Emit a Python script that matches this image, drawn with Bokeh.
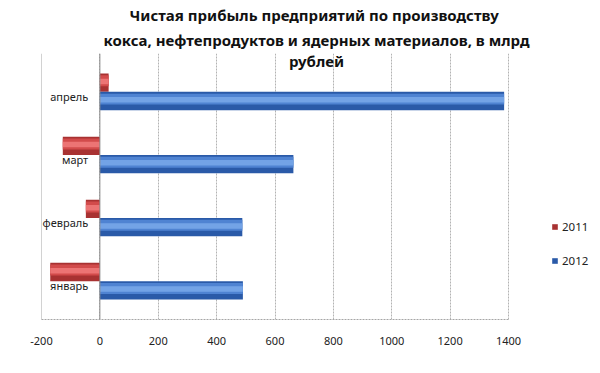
from bokeh.plotting import figure
from bokeh.models import FactorRange, ColumnDataSource, Span, Label, Legend, LegendItem, FixedTicker, Title
from bokeh.transform import dodge
from bokeh.core.properties import value
from bokeh.embed import file_html
from bokeh.resources import INLINE

months = ["январь", "февраль", "март", "апрель"]
values_2011 = [-170, -48, -127, 30]
values_2012 = [490, 488, 663, 1385]
series_names = ["2011", "2012"]
x_ticks = [-200, 0, 200, 400, 600, 800, 1000, 1200, 1400]
title_lines = ["Чистая прибыль предприятий по производству",
               "кокса, нефтепродуктов и ядерных материалов, в млрд",
               "рублей"]

src = ColumnDataSource(dict(month=months, v11=values_2011, v12=values_2012))

FONT = "Noto Sans"
X_MIN, X_MAX = x_ticks[0], x_ticks[-1]
# the frame extends to the right edge so the legend can sit beside the plot area
x_end = X_MAX + 92 * (X_MAX - X_MIN) / 467.0

p = figure(width=600, height=373, output_backend="svg", toolbar_location=None,
           y_range=FactorRange(factors=months, range_padding=0.054),
           x_range=(X_MIN, x_end),
           min_border_left=41, min_border_right=0, min_border_top=53, min_border_bottom=54)
p.background_fill_color = "white"
p.border_fill_color = "white"
p.outline_line_color = None

p.xgrid.grid_line_color = "#B3B3B3"
p.xgrid.grid_line_dash = "2 1"
p.ygrid.grid_line_color = None
p.xaxis.ticker = FixedTicker(ticks=x_ticks)
p.xaxis.bounds = (X_MIN, X_MAX)
p.xaxis.major_label_overrides = {t: str(t) for t in x_ticks}
p.xaxis.axis_line_color = "#A6A6A6"
p.xaxis.axis_line_dash = "2 1"
p.xaxis.major_tick_line_color = None
p.xaxis.minor_tick_line_color = None
p.xaxis.major_label_standoff = 11
p.xaxis.major_label_text_font = FONT
p.xaxis.major_label_text_font_size = "11px"
p.xaxis.major_label_text_color = "#222222"
p.yaxis.visible = False

# left edge of the plot area
p.add_layout(Span(location=X_MIN, dimension="height", line_color="#A6A6A6", line_width=1))

bh = 0.29
off = 0.145
# 2011 (red) bars: base + highlight
r11 = p.hbar(y=dodge("month", off, range=p.y_range), right="v11", left=0, height=bh,
             source=src, fill_color="#A83232", line_color=None)
p.hbar(y=dodge("month", off + 0.03, range=p.y_range), right="v11", left=0, height=bh * 0.6,
       source=src, fill_color="#D24B4B", line_color=None)
p.hbar(y=dodge("month", off + 0.02, range=p.y_range), right="v11", left=0, height=bh * 0.3,
       source=src, fill_color="#EC7474", line_color=None)
# 2012 (blue) bars
r12 = p.hbar(y=dodge("month", -off, range=p.y_range), right="v12", left=0, height=bh,
             source=src, fill_color="#2A5AA8", line_color=None)
p.hbar(y=dodge("month", -off + 0.03, range=p.y_range), right="v12", left=0, height=bh * 0.6,
       source=src, fill_color="#4F83D2", line_color=None)
p.hbar(y=dodge("month", -off + 0.02, range=p.y_range), right="v12", left=0, height=bh * 0.3,
       source=src, fill_color="#73A3E6", line_color=None)

# vertical axis line at zero
p.add_layout(Span(location=0, dimension="height", line_color="#8C8C8C", line_width=1))

# category labels next to the zero axis
p.text(x=-40, y=dodge("month", -0.07, range=p.y_range), text="month", source=src,
       text_align="right", text_baseline="middle", text_font=value(FONT),
       text_font_size="11px", text_color="#222222")

# title: first two lines above the frame, the last one inside it
for line, so, ox in [(title_lines[1], 7, 62), (title_lines[0], 0, 88)]:
    p.add_layout(Title(text=line, align="left", offset=ox, standoff=so,
                       text_font=FONT, text_font_size="15px", text_font_style="bold",
                       text_line_height=1.0, text_color="#111111"), "above")
p.add_layout(Label(x=275, y=259, x_units="screen", y_units="screen", text=title_lines[2],
                   text_align="center", text_baseline="middle", text_font=FONT,
                   text_font_size="15px", text_font_style="bold", text_color="#111111"))

legend = Legend(items=[LegendItem(label=series_names[0], renderers=[r11]),
                       LegendItem(label=series_names[1], renderers=[r12])],
                location=(510, 51), orientation="vertical",
                glyph_width=7, glyph_height=7, label_height=14, spacing=19,
                padding=0, margin=0, border_line_color=None, background_fill_alpha=0,
                label_text_font=FONT, label_text_font_size="11.5px", label_standoff=4,
                label_text_color="#222222")
p.add_layout(legend)

open("out.html", "w").write(file_html(p, INLINE))
